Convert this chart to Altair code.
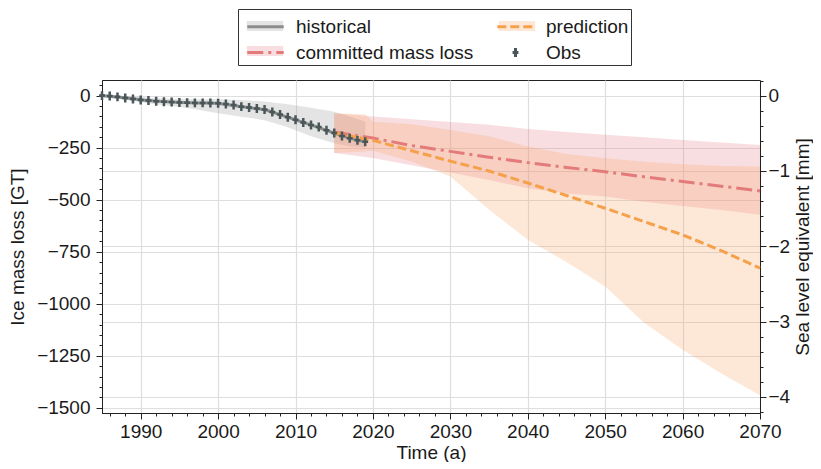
import altair as alt
import pandas as pd

# ---------------- data ----------------
obs_years = list(range(1985, 2020))
obs_gt = [0, -2, -6, -11, -16, -21, -24, -27, -30, -31, -33, -34, -35, -35, -36,
          -37, -40, -45, -53, -57, -62, -67, -79, -91, -104, -116, -129, -141, -151,
          -166, -180, -194, -205, -215, -222]

hist_years = [1985, 1988, 1991, 1994, 1997, 2000, 2003, 2006, 2009, 2012, 2015, 2017, 2019]
hist_mean = [0, -11, -24, -31, -35, -37, -53, -67, -104, -141, -180, -205, -222]
hist_hi = [4, -2, -10, -15, -17, -18, -21, -28, -42, -58, -77, -100, -125]
hist_lo = [-5, -20, -38, -50, -65, -85, -101, -118, -152, -195, -229, -243, -251]

com_years = [2015, 2020, 2025, 2030, 2035, 2040, 2045, 2050, 2055, 2060, 2065, 2070]
com_mean = [-175, -204, -240, -268, -296, -322, -345, -366, -390, -413, -435, -458]
com_hi = [-85, -100, -113, -127, -140, -160, -175, -188, -200, -213, -225, -237]
com_lo = [-276, -300, -335, -370, -405, -445, -470, -485, -510, -530, -550, -573]

pred_years = [2015, 2019, 2020, 2025, 2030, 2035, 2040, 2045, 2050, 2055, 2060, 2065, 2070]
pred_mean = [-178, -208, -215, -265, -315, -362, -420, -480, -541, -605, -669, -745, -829]
pred_hi = [-85, -90, -125, -138, -165, -195, -245, -280, -301, -318, -330, -338, -341]
pred_lo = [-276, -268, -265, -317, -389, -549, -693, -800, -917, -1090, -1221, -1335, -1440]

# legend order (the legend fills column by column)
series_order = ["historical", "committed mass loss", "prediction", "Obs"]
line_colors = ["#8c8c8c", "#e37b7b", "#f5a04a", "#4a5759"]
dash_styles = [[1, 0], [16, 5, 3, 5], [9, 4], [1, 0]]
band_colors = ["#939393", "#e37b83", "#f7a363", "#ffffff"]

x_ticks = [1990, 2000, 2010, 2020, 2030, 2040, 2050, 2060, 2070]
y_ticks = [0, -250, -500, -750, -1000, -1250, -1500]
sle_ticks = [0, -1, -2, -3, -4]

SLE = 362.0          # GT per mm sea level equivalent
X_DOM = [1985, 2070]
Y_DOM = [-1525, 75]

minor_x = [v for v in range(1986, 2070, 2) if v % 10 != 0]
minor_gt = [v for v in range(-1500, 75, 50) if v % 250 != 0]
minor_mm = [round(v * 0.2, 1) for v in range(-21, 2) if v % 5 != 0]

# ---------------- tables ----------------
def table(years, mean, name):
    return pd.DataFrame({"year": years, "gt": mean, "series": name})

def band_table(years, lo, hi, name):
    return pd.DataFrame({"year": years, "lo": lo, "hi": hi, "band": name + " "})

lines_df = pd.concat([table(hist_years, hist_mean, "historical"),
                      table(com_years, com_mean, "committed mass loss"),
                      table(pred_years, pred_mean, "prediction")])
bands_df = pd.concat([band_table(hist_years, hist_lo, hist_hi, "historical"),
                      band_table(com_years, com_lo, com_hi, "committed mass loss"),
                      band_table(pred_years, pred_lo, pred_hi, "prediction")])
obs_df = pd.DataFrame({"year": obs_years, "gt": obs_gt, "series": "Obs"})
sle_df = pd.DataFrame({"mm": sle_ticks})

FONT = "Liberation Sans"
LINE = "M-1.3,0H1.3"
CROSS = "M-0.21,0H0.21M0,-0.32V0.32"
BAND = "M-1.3,-0.36H1.3V0.36H-1.3Z"
SYM = 784

x_scale = alt.Scale(domain=X_DOM, nice=False, zero=False)
y_scale = alt.Scale(domain=Y_DOM, nice=False, zero=False)

legend_common = dict(orient="none", legendX=136, legendY=-71, columns=2, title=None,
                     symbolSize=SYM, symbolOffset=10, rowPadding=0, padding=2,
                     labelLimit=400, labelFont=FONT, labelFontSize=19, labelColor="#1a1a1a")

# lines + markers legend (draws the frame, labels)
line_legend = alt.Legend(symbolStrokeWidth=3, labelOffset=15, columnPadding=16,
                         strokeColor="#333", **legend_common)
# light band behind each legend line, drawn underneath (no labels)
band_legend = alt.Legend(symbolType=BAND, labelExpr="''", labelOffset=0, columnPadding=208,
                         **legend_common)

stroke_scale = alt.Scale(domain=series_order, range=line_colors)

bands = alt.Chart(bands_df).mark_area(opacity=0.25).encode(
    x=alt.X("year:Q", scale=x_scale,
            axis=alt.Axis(values=x_ticks, format="d", title="Time (a)", grid=True, labelFlush=False,
                          orient="bottom", tickSize=6, labelPadding=3, titlePadding=2)),
    y=alt.Y("lo:Q", scale=y_scale,
            axis=alt.Axis(values=y_ticks, format="d", title="Ice mass loss [GT]", grid=True,
                          labelFlush=False, orient="left", tickSize=6, labelPadding=6,
                          titlePadding=9)),
    y2="hi:Q",
    fill=alt.Fill("band:N", scale=alt.Scale(domain=[s + " " for s in series_order], range=band_colors),
                  legend=band_legend),
)

lines = alt.Chart(lines_df).mark_line(strokeWidth=3).encode(
    x=alt.X("year:Q", scale=x_scale, axis=None),
    y=alt.Y("gt:Q", scale=y_scale, axis=None),
    stroke=alt.Stroke("series:N", scale=stroke_scale, legend=line_legend),
    strokeDash=alt.StrokeDash("series:N", scale=alt.Scale(domain=series_order, range=dash_styles),
                              legend=line_legend),
)

points = alt.Chart(obs_df).mark_point(filled=False, strokeWidth=2.5, size=SYM, opacity=1).encode(
    x=alt.X("year:Q", scale=x_scale, axis=None),
    y=alt.Y("gt:Q", scale=y_scale, axis=None),
    stroke=alt.Stroke("series:N", scale=stroke_scale, legend=line_legend),
    shape=alt.Shape("series:N", scale=alt.Scale(domain=series_order,
                                                range=[LINE, LINE, LINE, CROSS]),
                    legend=line_legend),
)

minor_left = alt.Chart(obs_df).mark_point(opacity=0).encode(
    x=alt.X("year:Q", scale=x_scale,
            axis=alt.Axis(values=minor_x, labels=False, tickSize=3, grid=False, domain=False,
                          title=None, orient="bottom")),
    y=alt.Y("gt:Q", scale=y_scale,
            axis=alt.Axis(values=minor_gt, labels=False, tickSize=3, grid=False, domain=False,
                          title=None, orient="left")),
)

mm_scale = alt.Scale(domain=[Y_DOM[0] / SLE, Y_DOM[1] / SLE], nice=False, zero=False)

sle_major = alt.Chart(sle_df).mark_point(opacity=0).encode(
    y=alt.Y("mm:Q", scale=mm_scale,
            axis=alt.Axis(values=sle_ticks, format="d", title="Sea level equivalent [mm]",
                          grid=True, labelFlush=False, orient="right", tickSize=6, labelPadding=2,
                          titlePadding=4, titleAngle=270, titleBaseline="top")),
)

sle_minor = alt.Chart(sle_df).mark_point(opacity=0).encode(
    y=alt.Y("mm:Q", scale=mm_scale,
            axis=alt.Axis(values=minor_mm, labels=False, tickSize=3, grid=False, domain=False,
                          title=None, orient="right")),
)

chart = alt.layer(bands, lines, points, minor_left, sle_major, sle_minor).resolve_scale(
    y="independent"
).resolve_axis(
    x="independent", y="independent"
).properties(
    width=658, height=333,
    padding={"left": 0, "top": 0, "right": 0, "bottom": 0},
).configure_view(
    stroke="#222", strokeWidth=1
).configure_axis(
    labelFont=FONT, titleFont=FONT, labelFontSize=19, titleFontSize=19,
    labelColor="#1a1a1a", titleColor="#1a1a1a", tickColor="#222", domainColor="#222",
    gridColor="#dedede", gridWidth=1.2, titleFontWeight="normal",
)

chart.save("out.html", embed_options={"renderer": "svg", "actions": False})
